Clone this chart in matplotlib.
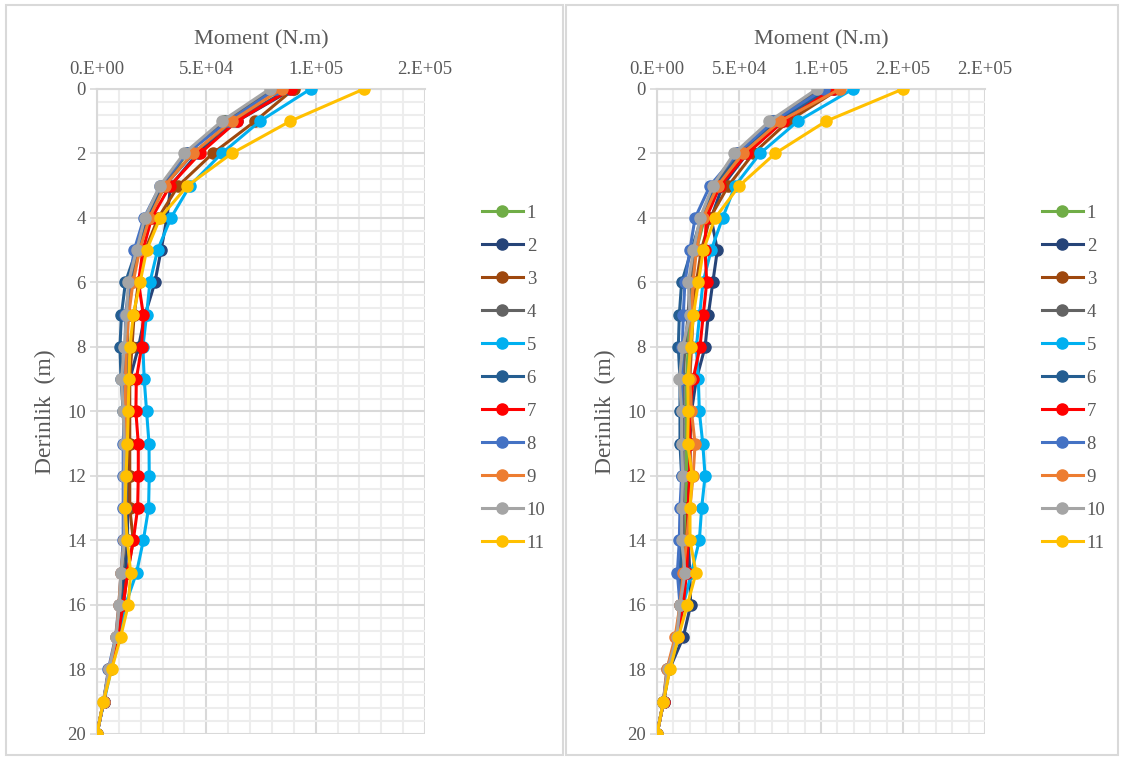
import numpy as np
import matplotlib
matplotlib.use('Agg')
import matplotlib.pyplot as plt
from matplotlib.patches import Rectangle
from matplotlib.ticker import FuncFormatter, MultipleLocator

plt.rcParams['font.family'] = ['Liberation Serif', 'DejaVu Serif']

# depth of each reading (m)
depth = list(range(0, 21))
labels = ['1', '2', '3', '4', '5', '6', '7', '8', '9', '10', '11']
colors = ['#70AD47', '#264478', '#9E480E', '#636363', '#00B0F0', '#255E91',
          '#FF0000', '#4472C4', '#ED7D31', '#A5A5A5', '#FFC000']

# moment values (N.m), left chart, series 1..11
left_1 = [80000, 58000, 41000, 31000, 24000, 19000, 16000, 14000, 14000, 14000, 14000,
          14000, 14000, 14000, 13000, 12000, 11000, 9000, 5500, 3000, 0]
left_2 = [89500, 64000, 46000, 33700, 32000, 29300, 26500, 22000, 19000, 15000, 14000,
          14000, 14000, 14000, 14000, 13000, 11500, 9500, 5800, 3000, 0]
left_3 = [90000, 72300, 52900, 37200, 28000, 22000, 19000, 17000, 16000, 15000, 15000,
          15000, 15000, 15000, 16600, 14000, 12000, 9500, 6000, 3000, 0]
left_4 = [80000, 58000, 41000, 30000, 23000, 18500, 15500, 14000, 14000, 13500, 13500,
          13500, 13500, 13500, 13000, 11500, 10500, 9000, 5500, 3000, 0]
left_5 = [97700, 74500, 57000, 42500, 33800, 27700, 24200, 22700, 21000, 21600, 22700,
          23800, 23900, 23600, 21200, 18100, 13000, 10000, 6500, 3200, 0]
left_6 = [88000, 62000, 44000, 31000, 23000, 18000, 13000, 11200, 10500, 11000, 12000,
          12500, 12500, 12500, 12500, 11500, 10500, 9000, 5500, 3000, 0]
left_7 = [88700, 63900, 47100, 33400, 25000, 21000, 19000, 21200, 20400, 18000, 17800,
          18900, 18900, 18600, 16600, 14000, 12000, 9500, 6000, 3000, 0]
left_8 = [82000, 60000, 41000, 29000, 21500, 17000, 15000, 13000, 13000, 12500, 12500,
          12000, 12000, 12000, 12000, 11000, 10000, 8500, 5200, 3000, 0]
left_9 = [84400, 61600, 43700, 31000, 24000, 19500, 16500, 14500, 13500, 13000, 13000,
          13000, 13000, 13000, 12500, 11000, 10000, 8700, 5500, 3000, 0]
left_10 = [79000, 57000, 39800, 28800, 21900, 18100, 14300, 13500, 12500, 11200, 12000,
           12500, 12500, 12500, 12500, 11000, 10200, 8700, 5500, 2900, 0]
left_11 = [122100, 88300, 61600, 41400, 28800, 22700, 19700, 16600, 15100, 14600, 14300,
           13900, 13300, 12800, 13900, 15400, 14300, 10800, 6700, 2900, 0]

# moment values (N.m), right chart, series 1..11
right_1 = [104000, 72000, 52000, 38000, 29000, 24000, 21000, 20000, 19000, 18000, 18000,
           18000, 18000, 18000, 17000, 16000, 15000, 12000, 7000, 4000, 0]
right_2 = [108000, 76000, 55000, 40000, 33000, 36800, 34000, 31300, 29300, 24000, 21000,
           20000, 20000, 19000, 19000, 20000, 20500, 16000, 7500, 4000, 0]
right_3 = [111000, 80100, 58700, 43500, 32300, 27000, 24000, 22000, 21000, 20000, 20000,
           20000, 20000, 19000, 18000, 17000, 15000, 12000, 7000, 4000, 0]
right_4 = [100000, 70000, 49000, 35000, 27000, 23000, 20000, 19000, 17000, 16000, 16000,
           16000, 16000, 16000, 16000, 15000, 14000, 12000, 6500, 3900, 0]
right_5 = [119500, 85800, 62800, 47600, 40000, 33000, 28000, 26000, 24000, 25200, 25800,
           27900, 29300, 27200, 25800, 21000, 16000, 13000, 7500, 4000, 0]
right_6 = [105000, 73000, 51000, 36000, 27000, 21000, 15000, 13600, 13000, 14000, 14000,
           14000, 15000, 15000, 15000, 14000, 15000, 13000, 6500, 3900, 0]
right_7 = [107300, 77000, 55000, 38400, 30000, 29300, 30300, 28200, 26200, 22000, 20000,
           20000, 20000, 19000, 19000, 18000, 16000, 12500, 7000, 4000, 0]
right_8 = [102000, 71000, 49000, 32300, 23200, 20000, 17000, 16000, 15500, 15000, 15000,
           15000, 15000, 14000, 13600, 12400, 14000, 12000, 6000, 3900, 0]
right_9 = [111600, 75000, 52200, 37000, 28000, 24000, 22000, 21000, 20000, 20000, 21000,
           23200, 22000, 20000, 18000, 16000, 14000, 11000, 6000, 3900, 0]
right_10 = [97400, 68500, 47000, 34000, 26200, 22200, 19100, 20100, 15700, 13600, 15000,
            15000, 15700, 15000, 15000, 17100, 14000, 12000, 6500, 3900, 0]
right_11 = [150000, 103000, 72000, 50200, 35400, 28200, 25200, 22200, 20500, 18700, 19100,
            18700, 21500, 20100, 20100, 23800, 18500, 13000, 7900, 3900, 0]

left_series = [left_1, left_2, left_3, left_4, left_5, left_6, left_7, left_8,
               left_9, left_10, left_11]
right_series = [right_1, right_2, right_3, right_4, right_5, right_6, right_7, right_8,
                right_9, right_10, right_11]

text_color = '#595959'

fig = plt.figure(figsize=(11.21, 7.58), dpi=100)

# chart area frames
fig.patches.append(Rectangle((0.005, 0.004), 0.497, 0.99, transform=fig.transFigure,
                             fill=False, edgecolor='#D9D9D9', linewidth=1.5))
fig.patches.append(Rectangle((0.505, 0.004), 0.492, 0.99, transform=fig.transFigure,
                             fill=False, edgecolor='#D9D9D9', linewidth=1.5))


def excel_fmt(v, pos):
    # excel "0.E+00" style, 1.5E+05 shows as 2.E+05
    return format(v, '#.0E')


def draw_chart(left, xmax, series, legend_x):
    ax = fig.add_axes([left, 0.0317, 0.2926, 0.8509])
    for s, c, lab in zip(series, colors, labels):
        ax.plot(s, depth, color=c, linewidth=2.2, marker='o', markersize=8,
                label=lab, zorder=3)
    ax.set_xlim(0, xmax)
    ax.set_ylim(20, 0)
    ax.xaxis.set_major_locator(MultipleLocator(50000))
    ax.xaxis.set_minor_locator(MultipleLocator(10000))
    ax.yaxis.set_major_locator(MultipleLocator(2))
    ax.yaxis.set_minor_locator(MultipleLocator(0.4))
    ax.xaxis.set_major_formatter(FuncFormatter(excel_fmt))
    ax.xaxis.tick_top()
    ax.xaxis.set_label_position('top')
    ax.grid(which='major', color='#D9D9D9', linewidth=1.5, zorder=0)
    ax.grid(which='minor', color='#EDEDED', linewidth=1.5, zorder=0)
    ax.set_axisbelow(True)
    for side in ['right', 'bottom']:
        ax.spines[side].set_visible(False)
    for side in ['top', 'left']:
        ax.spines[side].set_color('#D9D9D9')
        ax.spines[side].set_linewidth(1.5)
    ax.tick_params(which='major', length=5, color='#D9D9D9', width=1.2,
                   labelsize=13.5, labelcolor=text_color, pad=3)
    ax.tick_params(which='minor', length=0)
    ax.tick_params(axis='x', length=0, pad=8)
    ax.set_xlabel('Moment (N.m)', fontsize=16, color=text_color, labelpad=12)
    ax.set_ylabel('Derinlik  (m)', fontsize=17, color=text_color, labelpad=8)
    ax.legend(loc='upper left', bbox_to_anchor=(legend_x, 0.832),
              frameon=False, fontsize=13.5, handlelength=2.2, handletextpad=0.2,
              labelspacing=0.845, labelcolor=text_color, borderaxespad=0)
    return ax


ax1 = draw_chart(0.0865, 150000, left_series, 1.15)
ax2 = draw_chart(0.5861, 200000, right_series, 1.15)

plt.savefig('out.png', dpi=100)
